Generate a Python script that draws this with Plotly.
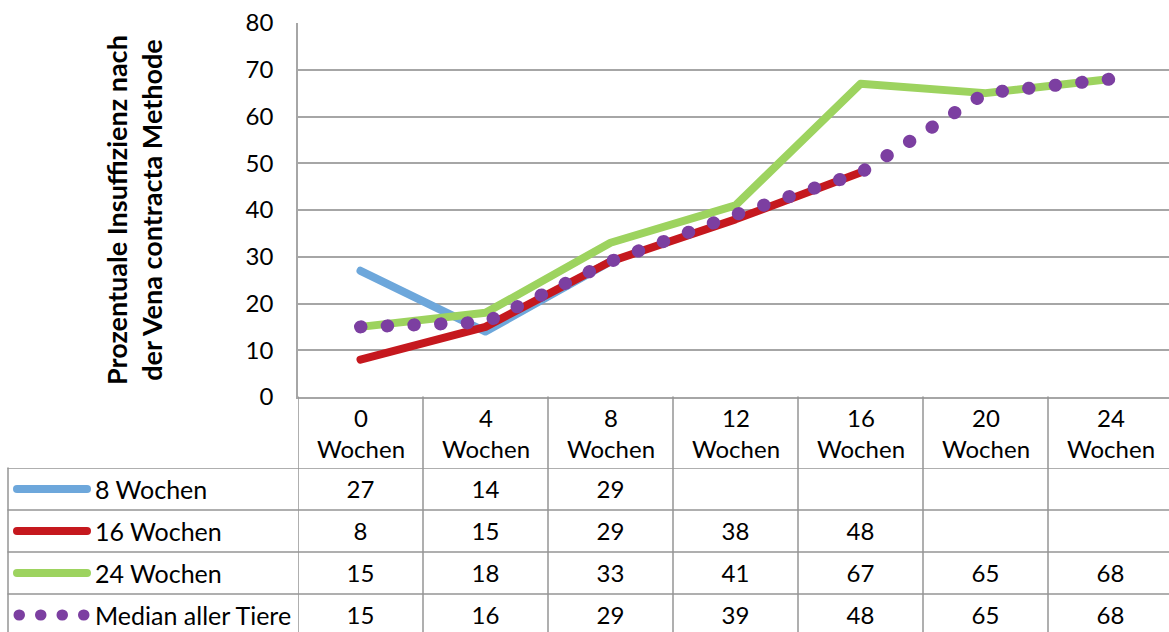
import plotly.graph_objects as go

# ---- data ----
categories = ["0", "4", "8", "12", "16", "20", "24"]
category_unit = "Wochen"
series_names = ["8 Wochen", "16 Wochen", "24 Wochen", "Median aller Tiere"]
values_8w = [27, 14, 29]
values_16w = [8, 15, 29, 38, 48]
values_24w = [15, 18, 33, 41, 67, 65, 68]
values_median = [15, 16, 29, 39, 48, 65, 68]
y_ticks = [0, 10, 20, 30, 40, 50, 60, 70, 80]
y_title = "Prozentuale Insuffizienz nach<br>der Vena contracta Methode"

series_values = [values_8w, values_16w, values_24w, values_median]
series_colors = ["#6DA7DB", "#C5181E", "#9DD35F", "#7C3FA1"]

# ---- layout geometry (pixels) ----
W, H = 1169, 632
FONT = "Lato"
GRID = "#A6A6A6"
TABLE_LINE = "#959595"
plot_left, plot_top, plot_bottom = 298, 23, 397
table_left, table_top = 8, 468
col_w = 125
row_h = 42


def px(x):
    return x / W


def py(y):
    return 1 - y / H


x_max = -0.5 + (W - plot_left) / col_w
row_max = -0.5 + (H - table_top) / row_h

fig = go.Figure()

# chart lines
for name, vals, color in zip(series_names, series_values, series_colors):
    is_median = name == series_names[-1]
    fig.add_trace(go.Scatter(
        x=list(range(len(vals))), y=vals, mode="lines", name=name,
        line=dict(color=color, width=13 if is_median else 8,
                  dash="0.5px,26.2px" if is_median else "solid"),
        hoverinfo="skip", showlegend=False,
    ))

# data table values
for r, vals in enumerate(series_values):
    fig.add_trace(go.Scatter(
        x=list(range(len(vals))), y=[r + 0.06] * len(vals), yaxis="y2",
        mode="text", text=[str(v) for v in vals],
        textposition="middle center",
        textfont=dict(family=FONT, size=24, color="#000000"),
        cliponaxis=False, hoverinfo="skip", showlegend=False,
    ))

shapes = []
# vertical table lines below the plot area
for i in range(len(categories)):
    shapes.append(dict(type="line", xref="x", yref="paper",
                       x0=i - 0.5, x1=i - 0.5, y0=0, y1=py(plot_bottom),
                       line=dict(color=TABLE_LINE, width=1.5)))
# left border of the table
shapes.append(dict(type="line", xref="paper", yref="paper",
                   x0=px(table_left), x1=px(table_left), y0=0, y1=py(table_top),
                   line=dict(color=TABLE_LINE, width=1.5)))
# horizontal table lines
for r in range(len(series_names)):
    shapes.append(dict(type="line", xref="paper", yref="y2",
                       x0=px(table_left), x1=1, y0=r - 0.5, y1=r - 0.5,
                       line=dict(color=TABLE_LINE, width=1.5)))
# legend keys in the table
for r, (name, color) in enumerate(zip(series_names, series_colors)):
    if r == len(series_names) - 1:
        shapes.append(dict(type="line", xref="paper", yref="y2",
                           x0=px(19), x1=px(84), y0=r, y1=r,
                           line=dict(color=color, width=11, dash="0.5px,21px")))
    else:
        shapes.append(dict(type="line", xref="paper", yref="y2",
                           x0=px(17), x1=px(87), y0=r, y1=r,
                           line=dict(color=color, width=8)))

annotations = []
# category header row
for i, c in enumerate(categories):
    annotations.append(dict(x=i, xref="x", y=py(433), yref="paper",
                            text=f"{c}<br>{category_unit}", showarrow=False,
                            font=dict(family=FONT, size=24, color="#000000"),
                            xanchor="center", yanchor="middle", align="center"))
# series names in the table
for r, name in enumerate(series_names):
    annotations.append(dict(x=px(93), xref="paper", y=r, yref="y2",
                            text=name, showarrow=False,
                            font=dict(family=FONT, size=25, color="#000000"),
                            xanchor="left", yanchor="middle"))
# y axis title
annotations.append(dict(x=px(134), xref="paper",
                        y=(py(plot_top) + py(plot_bottom)) / 2, yref="paper",
                        text=f"<b>{y_title}</b>", textangle=-90, showarrow=False,
                        font=dict(family=FONT, size=27, color="#000000"),
                        xanchor="center", yanchor="middle", align="center"))

fig.update_layout(
    width=W, height=H,
    margin=dict(l=0, r=0, t=0, b=0, autoexpand=False),
    paper_bgcolor="white", plot_bgcolor="white",
    font=dict(family=FONT, size=24, color="#000000"),
    xaxis=dict(domain=[px(plot_left), 1], range=[-0.5, x_max],
               showticklabels=False, showgrid=False, zeroline=False,
               showline=True, linecolor=GRID, linewidth=1.5, fixedrange=True,
               automargin=False),
    yaxis=dict(domain=[py(plot_bottom), py(plot_top)], range=[0, 80],
               tickvals=y_ticks, ticktext=[str(t) for t in y_ticks],
               showgrid=True, gridcolor=GRID, gridwidth=1.5,
               zeroline=False, showline=True, linecolor=GRID, linewidth=1.5,
               ticks="", ticklabelstandoff=18, automargin=False,
               tickfont=dict(family=FONT, size=24, color="#000000"),
               fixedrange=True),
    yaxis2=dict(domain=[0, py(table_top)], range=[row_max, -0.5],
                visible=False, anchor="x", fixedrange=True, automargin=False),
    shapes=shapes,
    annotations=annotations,
)

round_caps = """
var gd = document.getElementById('{plot_id}');
function roundCaps() {
  gd.querySelectorAll('.scatterlayer .js-line, .shapelayer path').forEach(function (p) {
    p.style.strokeLinecap = 'round';
    p.style.strokeLinejoin = 'round';
  });
}
roundCaps();
gd.on('plotly_afterplot', roundCaps);
"""

fig.write_html("out.html", config={"displayModeBar": False}, post_script=round_caps)
